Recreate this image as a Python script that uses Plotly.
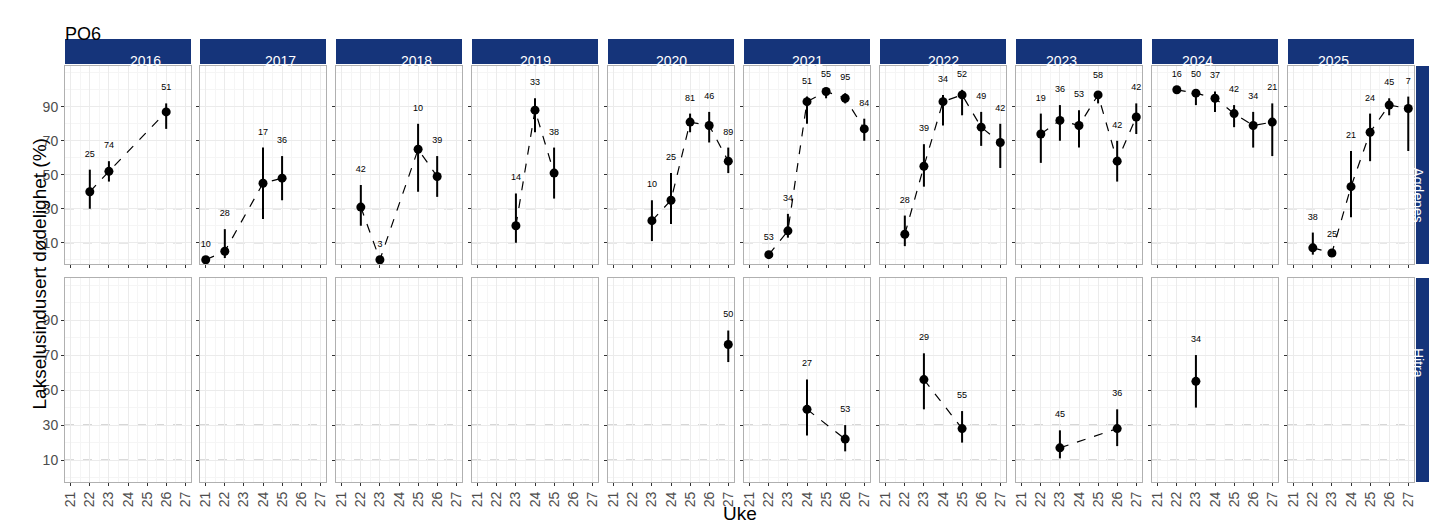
import plotly.graph_objects as go

years = [2016, 2017, 2018, 2019, 2020, 2021, 2022, 2023, 2024, 2025]
sites = ["Agdenes", "Hitra"]

# Agdenes: per year lists of week, value, low, high, n-label
agd_week = {2016: [22, 23, 26], 2017: [21, 22, 24, 25], 2018: [22, 23, 25, 26], 2019: [23, 24, 25],
            2020: [23, 24, 25, 26, 27], 2021: [22, 23, 24, 25, 26, 27], 2022: [22, 23, 24, 25, 26, 27],
            2023: [22, 23, 24, 25, 26, 27], 2024: [22, 23, 24, 25, 26, 27], 2025: [22, 23, 24, 25, 26, 27]}
agd_val = {2016: [40, 52, 87], 2017: [0, 5, 45, 48], 2018: [31, 0, 65, 49], 2019: [20, 88, 51],
           2020: [23, 35, 81, 79, 58], 2021: [3, 17, 93, 99, 95, 77], 2022: [15, 55, 93, 97, 78, 69],
           2023: [74, 82, 79, 97, 58, 84], 2024: [100, 98, 95, 86, 79, 81], 2025: [7, 4, 43, 75, 91, 89]}
agd_lo = {2016: [30, 46, 77], 2017: [0, 1, 24, 35], 2018: [20, 0, 40, 37], 2019: [10, 75, 36],
          2020: [11, 21, 75, 69, 51], 2021: [2, 13, 80, 95, 92, 70], 2022: [8, 43, 79, 85, 67, 54],
          2023: [57, 70, 66, 92, 46, 74], 2024: [99, 91, 87, 78, 66, 61], 2025: [3, 2, 25, 58, 85, 64]}
agd_hi = {2016: [53, 58, 92], 2017: [0, 18, 66, 61], 2018: [44, 0, 80, 61], 2019: [39, 95, 66],
          2020: [35, 51, 86, 87, 66], 2021: [4, 27, 96, 100, 98, 83], 2022: [26, 68, 97, 100, 87, 80],
          2023: [86, 91, 88, 99, 70, 92], 2024: [100, 100, 99, 91, 87, 92], 2025: [16, 6, 64, 86, 95, 96]}
agd_n = {2016: [25, 74, 51], 2017: [10, 28, 17, 36], 2018: [42, 3, 10, 39], 2019: [14, 33, 38],
         2020: [10, 25, 81, 46, 89], 2021: [53, 34, 51, 55, 95, 84], 2022: [28, 39, 34, 52, 49, 42],
         2023: [19, 36, 53, 58, 42, 42], 2024: [16, 50, 37, 42, 34, 21], 2025: [38, 25, 21, 24, 45, 7]}

hit_week = {2020: [27], 2021: [24, 26], 2022: [23, 25], 2023: [23, 26], 2024: [23]}
hit_val = {2020: [76], 2021: [39, 22], 2022: [56, 28], 2023: [17, 28], 2024: [55]}
hit_lo = {2020: [66], 2021: [24, 15], 2022: [39, 20], 2023: [11, 18], 2024: [40]}
hit_hi = {2020: [84], 2021: [56, 30], 2022: [71, 38], 2023: [27, 39], 2024: [70]}
hit_n = {2020: [50], 2021: [27, 53], 2022: [29, 55], 2023: [45, 36], 2024: [34]}

week_ticks = [21, 22, 23, 24, 25, 26, 27]
y_ticks = [10, 30, 50, 70, 90]
ref_lines = [10, 30]

W, H = 1437, 531
panel_x0 = [57, 192, 328, 464, 600, 736, 872, 1008, 1144, 1280]
panel_w = 126
rows_px = [(58, 256), (270, 474)]
STRIP = "#15347a"

fig = go.Figure()
layout = {}
shapes = []
annotations = []

data = [(agd_week, agd_val, agd_lo, agd_hi, agd_n), (hit_week, hit_val, hit_lo, hit_hi, hit_n)]

idx = 0
for r in range(2):
    for c, yr in enumerate(years):
        idx += 1
        xa = "x" if idx == 1 else f"x{idx}"
        ya = "y" if idx == 1 else f"y{idx}"
        x0 = panel_x0[c] / W
        x1 = (panel_x0[c] + panel_w) / W
        y0 = 1 - rows_px[r][1] / H
        y1 = 1 - rows_px[r][0] / H
        layout[f"xaxis{'' if idx == 1 else idx}"] = dict(
            domain=[x0, x1], range=[20.7, 27.3], anchor=ya, tickvals=week_ticks, automargin=False,
            ticktext=[str(t) for t in week_ticks], showticklabels=(r == 1), tickangle=-90,
            ticks="outside", ticklen=3, tickcolor="#333", tickfont=dict(size=14, color="#4d4d4d"),
            showgrid=True, gridcolor="#ebebeb", gridwidth=1, minor=dict(dtick=0.5, showgrid=True, gridcolor="#f5f5f5"),
            zeroline=False, showline=True, linecolor="#b0b0b0", mirror=True)
        layout[f"yaxis{'' if idx == 1 else idx}"] = dict(
            domain=[y0, y1], range=[-2.5, 114], anchor=xa, tickvals=y_ticks, automargin=False,
            showticklabels=(c == 0), ticks="outside", ticklen=3, tickcolor="#333",
            tickfont=dict(size=14, color="#4d4d4d"), showgrid=True, gridcolor="#ebebeb",
            minor=dict(dtick=10, showgrid=True, gridcolor="#f5f5f5"),
            zeroline=False, showline=True, linecolor="#b0b0b0", mirror=True)
        for rv in ref_lines:
            shapes.append(dict(type="line", xref=f"{xa} domain", yref=ya, x0=0, x1=1, y0=rv, y1=rv,
                               line=dict(color="#a0a0a0", width=1, dash="dash"), layer="below"))
        wk, val, lo, hi, nn = data[r]
        if yr in wk:
            v = val[yr]
            fig.add_trace(go.Scatter(
                x=wk[yr], y=v, mode="lines+markers", xaxis=xa, yaxis=ya, showlegend=False,
                line=dict(color="black", width=1.2, dash="dash"),
                marker=dict(color="black", size=9),
                error_y=dict(type="data", symmetric=False,
                             array=[h - p for h, p in zip(hi[yr], v)],
                             arrayminus=[p - l for l, p in zip(lo[yr], v)],
                             width=0, thickness=2, color="black")))
            fig.add_trace(go.Scatter(
                x=wk[yr], y=[h + 9 for h in hi[yr]], mode="text", text=[str(n) for n in nn[yr]],
                textfont=dict(size=9, color="black"), xaxis=xa, yaxis=ya, showlegend=False,
                hoverinfo="skip"))
        if r == 0:
            shapes.append(dict(type="rect", xref="paper", yref="paper", x0=x0, x1=x1,
                               y0=1 - 56 / H, y1=1 - 31 / H, fillcolor=STRIP, line=dict(width=0)))
            annotations.append(dict(text=str(yr), xref="paper", yref="paper", x=(x0 + x1) / 2,
                                    y=1 - 43.5 / H, showarrow=False,
                                    font=dict(size=14, color="white")))
    y0 = 1 - rows_px[r][1] / H
    y1 = 1 - rows_px[r][0] / H
    shapes.append(dict(type="rect", xref="paper", yref="paper", x0=1408 / W, x1=1432 / W,
                       y0=y0, y1=y1, fillcolor=STRIP, line=dict(width=0)))
    annotations.append(dict(text=sites[r], xref="paper", yref="paper", x=1420 / W, y=(y0 + y1) / 2,
                            showarrow=False, textangle=90, font=dict(size=14, color="white")))

annotations.append(dict(text="PO6", xref="paper", yref="paper", x=55 / W, y=1 - 14 / H,
                        showarrow=False, xanchor="left", font=dict(size=18, color="black")))
annotations.append(dict(text="Lakselusindusert dødelighet (%)", xref="paper", yref="paper",
                        x=18 / W, y=1 - 266 / H, showarrow=False, textangle=-90,
                        font=dict(size=19, color="black")))
annotations.append(dict(text="Uke", xref="paper", yref="paper", x=732 / W, y=1 - 518 / H,
                        showarrow=False, font=dict(size=19, color="black")))

fig.update_layout(**layout)
fig.update_layout(width=W, height=H, margin=dict(l=0, r=0, t=0, b=0, autoexpand=False),
                  plot_bgcolor="white", paper_bgcolor="white",
                  font=dict(family="Liberation Sans, Arial, sans-serif"),
                  shapes=shapes, annotations=annotations)
fig.write_html("out.html")
